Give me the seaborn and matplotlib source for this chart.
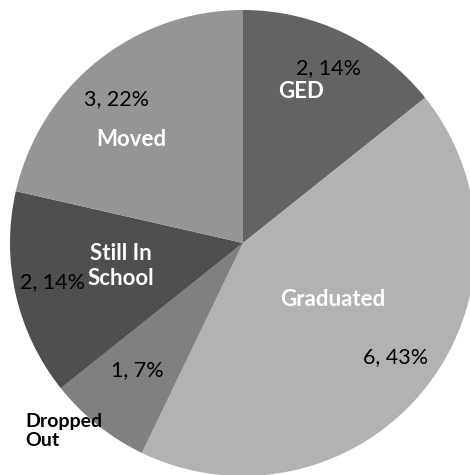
import seaborn as sns
import matplotlib.pyplot as plt

sns.set_style("white")
plt.rcParams['font.family'] = ['Lato', 'DejaVu Sans']

categories = ["GED", "Graduated", "Dropped Out", "Still In School", "Moved"]
counts = [2, 6, 1, 2, 3]
percents = [14, 43, 7, 14, 22]
colors = ["#636363", "#b2b2b2", "#808080", "#4f4f4f", "#959595"]

# label placement in pixel coords (x, y from top)
name_text = ["GED", "Graduated", "Dropped\nOut", "Still In\nSchool", "Moved"]
name_pos = [(301, 92), (333, 299), (25, 431), (121, 266), (131, 139)]
name_col = ["white", "white", "black", "white", "white"]
name_size = [16, 16, 14, 16, 16]
num_pos = [(329, 68), (396, 357), (137, 370), (52, 282), (116, 99)]

W, H = 470, 475
fig = plt.figure(figsize=(4.7, 4.75), dpi=100)
ax = fig.add_axes([0, 0, 1, 1])

ax.pie(counts, colors=colors, startangle=90, counterclock=False,
       center=(243, H - 243), radius=233, frame=True,
       wedgeprops=dict(linewidth=0))
ax.set_xlim(0, W)
ax.set_ylim(0, H)
ax.set_aspect('equal')
ax.axis('off')

for i in range(len(categories)):
    x, y = num_pos[i]
    ax.text(x, H - y, f"{counts[i]}, {percents[i]}%", ha='center', va='center',
            fontsize=15.5, color='black')
    x, y = name_pos[i]
    ha = 'left' if categories[i] == "Dropped Out" else 'center'
    ax.text(x, H - y, name_text[i], ha=ha, va='center', fontsize=name_size[i],
            fontweight='bold', color=name_col[i], linespacing=1.2)

plt.savefig('out.png', dpi=100)
